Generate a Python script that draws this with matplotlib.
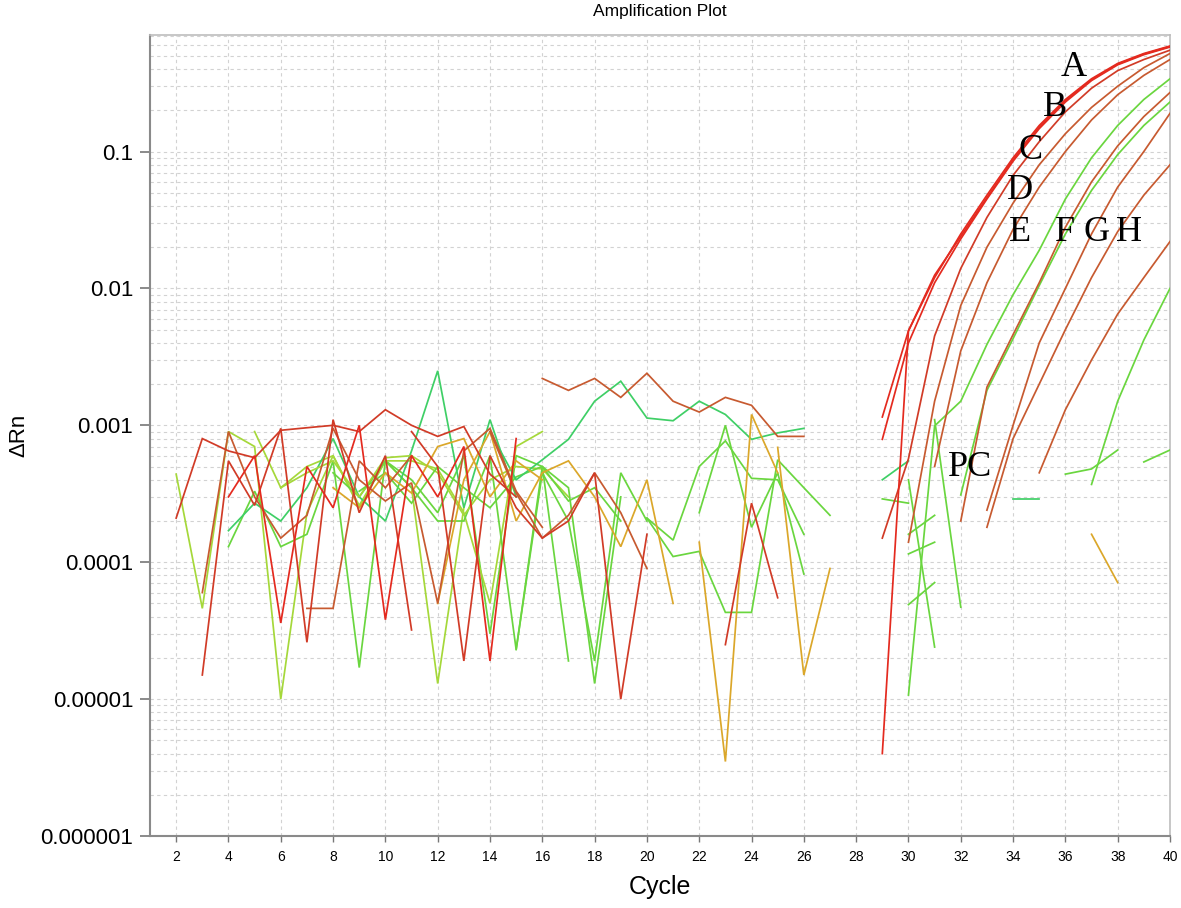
import numpy as np
import matplotlib
matplotlib.use("Agg")
import matplotlib.pyplot as plt
from matplotlib.ticker import LogLocator, NullFormatter

# ---------------- data ----------------
cycle_ticks = list(range(2, 41, 2))
dRn_ticks = [1e-6, 1e-5, 1e-4, 1e-3, 1e-2, 1e-1]
dRn_tick_labels = ["0.000001", "0.00001", "0.0001", "0.001", "0.01", "0.1"]

# colours of the instrument's red -> green well palette
RED_B = "#e42a1f"
RED = "#d13b27"
BROWN = "#c75a30"
ORANGE = "#dba72a"
YGREEN = "#a5d83a"
GREEN = "#6ad63f"
MINT = "#3fcf66"

# amplification curves (start cycle, values per cycle)
amp_A = (29, [1.15e-3, 4.9e-3, 0.012, 0.025, 0.048, 0.09, 0.155, 0.24, 0.34, 0.44, 0.52, 0.59])
amp_B = (29, [7.9e-4, 4.0e-3, 0.011, 0.023, 0.045, 0.085, 0.147, 0.23, 0.33, 0.43, 0.51, 0.58])
amp_C = (29, [4e-6, 4.9e-3, 0.0125, 0.024, 0.046, 0.087, 0.15, 0.235, 0.335, 0.435, 0.515, 0.585])
amp_D = (29, [1.5e-4, 5.7e-4, 4.5e-3, 0.014, 0.033, 0.067, 0.118, 0.195, 0.29, 0.39, 0.47, 0.55])
amp_E = (30, [1.4e-4, 1.5e-3, 7.5e-3, 0.02, 0.042, 0.08, 0.135, 0.21, 0.3, 0.41, 0.52])
amp_E2 = (31, [5e-4, 3.5e-3, 0.011, 0.027, 0.055, 0.1, 0.17, 0.26, 0.36, 0.47])
amp_F = (30, [1.07e-5, 9.9e-4, 1.5e-3, 3.9e-3, 9e-3, 0.019, 0.045, 0.09, 0.155, 0.24, 0.34])
amp_G_red = (32, [2e-4, 1.9e-3, 4.6e-3, 0.011, 0.028, 0.06, 0.11, 0.18, 0.27])
amp_G_green = (32, [3.1e-4, 1.8e-3, 4.3e-3, 0.0105, 0.025, 0.052, 0.095, 0.155, 0.23])
amp_H1 = (33, [2.4e-4, 1.0e-3, 4e-3, 0.01, 0.025, 0.055, 0.1, 0.19])
amp_H2 = (33, [1.8e-4, 8e-4, 2e-3, 5e-3, 0.012, 0.026, 0.048, 0.08])
amp_H3 = (35, [4.5e-4, 1.3e-3, 3e-3, 6.5e-3, 0.012, 0.022])
amp_L = (37, [3.7e-4, 1.5e-3, 4.2e-3, 0.01])

# late fragments
frag_1 = (29, [4.0e-4, 5.5e-4])
frag_2 = (29, [2.9e-4, 2.7e-4])
frag_3 = (30, [1.6e-4, 2.2e-4])
frag_4 = (30, [1.15e-4, 1.4e-4])
frag_5 = (30, [4.9e-5, 7.1e-5])
frag_6 = (30, [4.0e-4, 2.4e-5])
frag_7 = (31, [1.1e-3, 4.7e-5])
frag_8 = (34, [2.9e-4, 2.9e-4])
frag_9 = (36, [4.4e-4, 4.8e-4, 6.6e-4])
frag_10 = (39, [5.4e-4, 6.6e-4])
frag_11 = (37, [1.6e-4, 7.1e-5])

# baseline noise (start cycle, values per cycle)
n01 = (2, [2.1e-4, 8.0e-4, 6.5e-4, 5.8e-4, 9.2e-4, 9.6e-4, 1.0e-3, 9.0e-4, 1.3e-3, 1.0e-3, 8.3e-4, 9.8e-4, 4.4e-4, 3.0e-4])
n02 = (2, [4.4e-4, 4.6e-5, 9.0e-4, 7.0e-4, 1.0e-5, 2.3e-4, 6.0e-4, 2.6e-4, 5.5e-4, 3.5e-4, 1.3e-5, 2.5e-4])
n03 = (3, [6e-5, 9.0e-4, 3.0e-4, 1.5e-4, 2.2e-4, 9.5e-4, 4.0e-4, 2.8e-4, 3.8e-4, 5.0e-5, 6.5e-4, 9.5e-4, 3.3e-4, 1.8e-4])
n04 = (3, [1.5e-5, 5.5e-4, 2.6e-4, 9.5e-4, 2.6e-5, 1.1e-3, 2.3e-4, 6.0e-4, 3.2e-5])
n05 = (4, [3e-4, 6e-4, 3.6e-5, 5e-4, 2.5e-4, 1.0e-3, 3.8e-5, 6e-4, 3e-4, 7e-4, 1.9e-5, 8e-4])
n06 = (4, [1.7e-4, 2.7e-4, 2.0e-4, 3.5e-4, 8e-4, 3e-4, 2.0e-4, 6.5e-4, 2.5e-3, 2.5e-4, 1.1e-3, 3.0e-4])
n07 = (4, [1.3e-4, 3.3e-4, 1.3e-4, 1.6e-4, 5.5e-4, 1.7e-5, 5.5e-4, 4.0e-4, 2.3e-4, 6.0e-4, 3.0e-5, 6.0e-4, 5.0e-4, 1.9e-5])
n08 = (7, [4.6e-5, 4.6e-5, 5.5e-4, 3.5e-4, 6.0e-4])
n09 = (5, [9e-4, 3.5e-4, 5e-4, 6e-4, 2.5e-4, 5.5e-4, 5.5e-4, 4.8e-4, 2.3e-4, 5e-5, 7e-4, 9e-4])
n10 = (8, [4.5e-4, 3e-4, 5.5e-4, 3.5e-4, 2.0e-4, 2.0e-4, 6e-4, 2.3e-5, 4.5e-4, 2e-4, 1.9e-5, 4.5e-4, 2e-4])
n11 = (11, [9e-4, 5e-4, 1.9e-5, 6e-4, 2.5e-4, 1.5e-4, 2.0e-4, 4.5e-4, 1.0e-5, 1.6e-4])
n12 = (12, [5e-5, 4e-4, 9e-4, 2e-4, 4.5e-4, 5.5e-4, 3.0e-4, 1.3e-4, 4e-4, 5e-5])
n13 = (14, [9e-4, 3.2e-4, 1.5e-4, 2.2e-4, 4.5e-4, 2.3e-4, 9e-5])
n14 = (16, [2.2e-3, 1.8e-3, 2.2e-3, 1.6e-3, 2.4e-3, 1.5e-3, 1.25e-3, 1.6e-3, 1.4e-3, 8.3e-4, 8.3e-4])
n15 = (14, [9e-4, 4e-4, 5.6e-4, 7.9e-4, 1.5e-3, 2.1e-3, 1.13e-3, 1.08e-3, 1.5e-3, 1.2e-3, 7.9e-4, 8.8e-4, 9.5e-4])
n16 = (20, [2.1e-4, 1.1e-4, 1.2e-4, 4.3e-5, 4.3e-5, 5.6e-4, 3.5e-4, 2.2e-4])
n17 = (20, [2.1e-4, 1.45e-4, 5e-4, 7.7e-4, 4.1e-4, 4e-4, 1.6e-4])
n18 = (22, [1.4e-4, 3.5e-6, 1.2e-3, 4.5e-4])
n19 = (25, [6.9e-4, 1.5e-5, 9e-5])
n20 = (23, [2.5e-5, 2.7e-4, 5.5e-5])
n21 = (22, [2.3e-4, 1.0e-3, 1.8e-4, 4.5e-4, 8.2e-5])
n22 = (15, [2.3e-5, 5e-4, 3.5e-4, 1.3e-5, 3.0e-4])
n23 = (6, [3.5e-4, 4.5e-4, 5.5e-4, 3.0e-4, 5.8e-4, 6.0e-4, 4.5e-4, 2.2e-4, 4.0e-4, 5e-4, 4.8e-4, 3e-4])
n24 = (9, [3.3e-4, 4.5e-4, 2.7e-4, 5e-4, 3.5e-4, 2.5e-4, 4.2e-4, 5e-4, 2.8e-4, 3.5e-4, 2.0e-4])
n25 = (8, [3.5e-4, 2.5e-4, 4.5e-4, 3.2e-4, 7e-4, 8e-4, 3e-4, 5.5e-4, 4e-4])

series = [
    (n02, YGREEN), (n07, GREEN), (n09, YGREEN), (n10, GREEN), (n06, MINT),
    (n23, YGREEN), (n24, GREEN),
    (n15, MINT), (n16, GREEN), (n17, GREEN), (n21, GREEN), (n22, GREEN),
    (n12, ORANGE), (n18, ORANGE), (n19, ORANGE), (n25, ORANGE),
    (n03, BROWN), (n08, BROWN), (n13, BROWN), (n14, BROWN),
    (n01, RED), (n04, RED), (n05, RED_B), (n11, RED), (n20, RED),
    (frag_1, MINT), (frag_2, GREEN), (frag_3, GREEN), (frag_4, GREEN), (frag_5, GREEN),
    (frag_6, GREEN), (frag_7, GREEN), (frag_8, MINT), (frag_9, GREEN), (frag_10, GREEN),
    (frag_11, ORANGE),
    (amp_L, GREEN), (amp_H3, BROWN), (amp_H2, BROWN), (amp_H1, BROWN),
    (amp_G_green, GREEN), (amp_G_red, BROWN), (amp_F, GREEN),
    (amp_E2, BROWN), (amp_E, BROWN), (amp_D, RED), (amp_C, RED_B), (amp_B, RED_B), (amp_A, RED_B),
]

labels = ["A", "B", "C", "D", "E", "F", "G", "H", "PC"]
label_cycle = [36.3, 35.6, 34.65, 34.25, 34.25, 36.0, 37.2, 38.45, 32.35]
label_dRn = [0.41, 0.21, 0.102, 0.052, 0.0256, 0.0256, 0.0256, 0.0256, 0.00049]

# ---------------- figure ----------------
W, H = 1181, 908
fig = plt.figure(figsize=(W / 100, H / 100), dpi=100)
ax = fig.add_axes([150 / W, 1 - 836 / H, 1020 / W, 801 / H])

for (start, vals), col in series:
    xs = np.arange(start, start + len(vals))
    ax.plot(xs, vals, color=col, lw=1.25, solid_joinstyle="miter", zorder=3)

ax.set_yscale("log")
ax.set_xlim(1, 40)
ax.set_ylim(1e-6, 0.71)

ax.set_xticks(cycle_ticks)
ax.set_xticklabels([str(c) for c in cycle_ticks], fontsize=10, family="Liberation Sans")
ax.set_yticks(dRn_ticks)
ax.set_yticklabels(dRn_tick_labels, fontsize=16, family="Liberation Sans")
ax.yaxis.set_minor_locator(LogLocator(base=10, subs=np.arange(2, 10)))
ax.yaxis.set_minor_formatter(NullFormatter())
ax.tick_params(axis="y", which="major", length=7, width=1.2, color="#777777", pad=5)
ax.tick_params(axis="y", which="minor", length=0)
ax.tick_params(axis="x", which="major", length=4, width=1, color="#777777", pad=6)

dash = (0, (3, 3))
ax.grid(True, which="both", axis="y", color="#d2d2d2", lw=0.8, ls=dash)
ax.grid(True, which="major", axis="x", color="#d2d2d2", lw=0.8, ls=dash)
ax.set_axisbelow(True)

for side in ["left", "bottom"]:
    ax.spines[side].set_color("#8a8a8a")
    ax.spines[side].set_linewidth(1.5)
for side in ["top", "right"]:
    ax.spines[side].set_color("#bdbdbd")
    ax.spines[side].set_linewidth(1.2)

ax.set_xlabel("Cycle", fontsize=18, family="Liberation Sans", labelpad=8)
ax.set_ylabel("\u0394Rn", fontsize=16, family="Liberation Sans", labelpad=8)
ax.set_title("Amplification Plot", fontsize=12.5, family="Liberation Sans", pad=14)

for t, cx, cy in zip(labels, label_cycle, label_dRn):
    ax.text(cx, cy, t, fontsize=26, family="Liberation Serif", color="black",
            ha="center", va="center", zorder=5)

fig.savefig("out.png", dpi=100, facecolor="white")
